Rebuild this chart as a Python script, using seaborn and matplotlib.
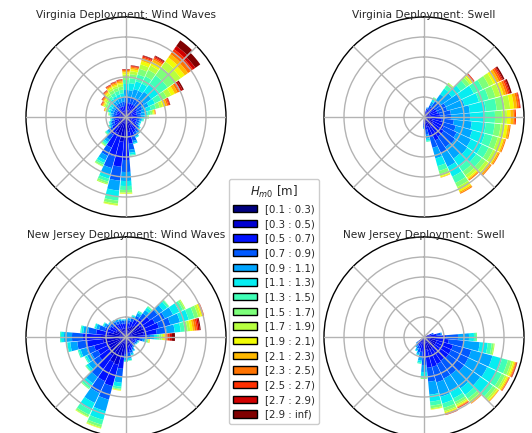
import numpy as np
import matplotlib
matplotlib.use("Agg")
import matplotlib.pyplot as plt
import seaborn as sns
from matplotlib.patches import Patch

# Hm0 classes (legend)
hm0_labels = ["[0.1 : 0.3)", "[0.3 : 0.5)", "[0.5 : 0.7)", "[0.7 : 0.9)", "[0.9 : 1.1)",
              "[1.1 : 1.3)", "[1.3 : 1.5)", "[1.5 : 1.7)", "[1.7 : 1.9)", "[1.9 : 2.1)",
              "[2.1 : 2.3)", "[2.3 : 2.5)", "[2.5 : 2.7)", "[2.7 : 2.9)", "[2.9 : inf)"]

titles = ["Virginia Deployment: Wind Waves", "Virginia Deployment: Swell",
          "New Jersey Deployment: Wind Waves", "New Jersey Deployment: Swell"]

# frequency (%) per direction sector, one value per Hm0 class (missing = 0)
va_wind_dirs = [0, 10, 20, 30, 40, 50, 60, 70, 80, 90, 100, 110, 120, 130, 140, 150, 160, 170,
                180, 190, 200, 210, 220, 230, 240, 250, 260, 270, 280, 290, 300, 310, 320, 330, 340, 350]
va_wind_freq = [
    [0.1, 0.6, 0.7, 0.6, 0.7, 0.6, 0.4, 0.3, 0.25, 0.2, 0.15, 0.1, 0.05, 0.03, 0.02],
    [0.1, 0.6, 0.7, 0.6, 0.7, 0.7, 0.5, 0.4, 0.3, 0.2, 0.15, 0.1, 0.07, 0.05, 0.03],
    [0.1, 0.6, 0.7, 0.7, 0.8, 0.8, 0.7, 0.6, 0.45, 0.35, 0.2, 0.15, 0.12, 0.08, 0.05],
    [0.1, 0.6, 0.7, 0.7, 0.8, 0.8, 0.8, 0.7, 0.5, 0.4, 0.25, 0.15, 0.13, 0.1, 0.07],
    [0.1, 0.6, 0.7, 0.8, 0.9, 1.0, 1.0, 1.0, 0.7, 0.5, 0.4, 0.3, 0.3, 0.4, 0.7],
    [0.1, 0.6, 0.7, 0.8, 0.9, 1.0, 1.0, 0.9, 0.7, 0.5, 0.4, 0.3, 0.3, 0.3, 0.6],
    [0.1, 0.5, 0.6, 0.6, 0.7, 0.7, 0.7, 0.6, 0.5, 0.4, 0.3, 0.2, 0.15, 0.2, 0.15],
    [0.1, 0.5, 0.5, 0.5, 0.5, 0.5, 0.5, 0.4, 0.3, 0.25, 0.2, 0.15, 0.1, 0.07, 0.03],
    [0.1, 0.5, 0.5, 0.4, 0.4, 0.3, 0.25, 0.2, 0.12, 0.1, 0.07, 0.04, 0.02],
    [0.1, 0.5, 0.5, 0.4, 0.3, 0.2, 0.15, 0.1, 0.05],
    [0.1, 0.5, 0.5, 0.3, 0.2, 0.1, 0.1],
    [0.1, 0.5, 0.5, 0.3, 0.1, 0.1],
    [0.1, 0.5, 0.5, 0.3, 0.1, 0.1],
    [0.1, 0.6, 0.6, 0.3, 0.1, 0.1],
    [0.1, 0.7, 0.7, 0.3, 0.2, 0.1],
    [0.1, 0.8, 0.8, 0.3, 0.2, 0.1],
    [0.2, 1.0, 0.9, 0.4, 0.2, 0.1],
    [0.2, 1.3, 1.2, 0.6, 0.3, 0.2, 0.1],
    [0.3, 2.0, 2.0, 1.2, 0.9, 0.5, 0.4, 0.25, 0.1, 0.05],
    [0.3, 2.2, 2.5, 1.4, 1.0, 0.6, 0.4, 0.3, 0.15, 0.05],
    [0.3, 1.8, 2.0, 1.2, 0.7, 0.4, 0.3, 0.2, 0.1],
    [0.3, 1.5, 1.6, 0.9, 0.5, 0.3, 0.2, 0.15, 0.05],
    [0.2, 1.0, 1.0, 0.6, 0.3, 0.2, 0.15, 0.1, 0.05],
    [0.2, 0.8, 0.7, 0.4, 0.2, 0.15, 0.1, 0.05],
    [0.2, 0.6, 0.5, 0.3, 0.2, 0.1, 0.1],
    [0.2, 0.6, 0.4, 0.3, 0.15, 0.1, 0.05],
    [0.2, 0.5, 0.4, 0.2, 0.15, 0.1, 0.05],
    [0.2, 0.5, 0.4, 0.2, 0.15, 0.1, 0.05],
    [0.1, 0.5, 0.4, 0.3, 0.2, 0.1, 0.1, 0.05, 0.05],
    [0.1, 0.5, 0.4, 0.3, 0.3, 0.2, 0.15, 0.1, 0.1, 0.05, 0.05, 0.03, 0.02],
    [0.1, 0.5, 0.4, 0.3, 0.3, 0.3, 0.2, 0.2, 0.15, 0.1, 0.1, 0.07, 0.05, 0.03],
    [0.1, 0.5, 0.4, 0.3, 0.3, 0.3, 0.3, 0.2, 0.2, 0.12, 0.1, 0.08, 0.05, 0.03, 0.02],
    [0.1, 0.5, 0.5, 0.4, 0.35, 0.35, 0.3, 0.2, 0.2, 0.12, 0.1, 0.08, 0.05, 0.03, 0.02],
    [0.1, 0.5, 0.5, 0.4, 0.4, 0.4, 0.35, 0.3, 0.2, 0.15, 0.1, 0.1, 0.05, 0.03, 0.02],
    [0.1, 0.5, 0.5, 0.4, 0.45, 0.4, 0.35, 0.3, 0.2, 0.15, 0.15, 0.1, 0.05, 0.03, 0.02],
    [0.1, 0.5, 0.5, 0.45, 0.45, 0.4, 0.35, 0.3, 0.25, 0.15, 0.15, 0.1, 0.05, 0.03, 0.02],
]

va_swell_dirs = [20, 30, 40, 50, 60, 70, 80, 90, 100, 110, 120, 130, 140, 150, 160, 170, 180]
va_swell_freq = [
    [0.1, 0.3, 0.3, 0.2, 0.1],
    [0.1, 0.4, 0.4, 0.4, 0.4, 0.3, 0.15, 0.05],
    [0.1, 0.5, 0.6, 0.7, 0.9, 0.7, 0.4, 0.2, 0.1],
    [0.1, 0.5, 0.7, 0.8, 1.3, 1.1, 0.7, 0.4, 0.2, 0.15, 0.1, 0.05, 0.05, 0.05],
    [0.1, 0.5, 0.8, 1.0, 1.7, 1.4, 1.0, 0.7, 0.5, 0.35, 0.25, 0.2, 0.15, 0.1, 0.15],
    [0.1, 0.5, 0.8, 1.0, 1.8, 1.5, 1.0, 0.7, 0.5, 0.35, 0.25, 0.2, 0.15, 0.1, 0.15],
    [0.1, 0.6, 0.9, 1.1, 1.9, 1.6, 1.1, 0.8, 0.55, 0.4, 0.3, 0.2, 0.1, 0.05],
    [0.1, 0.6, 0.9, 1.1, 1.9, 1.5, 1.0, 0.7, 0.5, 0.35, 0.3, 0.15, 0.1],
    [0.1, 0.7, 1.0, 1.2, 1.8, 1.4, 0.9, 0.6, 0.4, 0.3, 0.2, 0.1],
    [0.1, 0.8, 1.1, 1.3, 1.7, 1.3, 0.8, 0.55, 0.35, 0.25, 0.15, 0.1],
    [0.1, 0.9, 1.2, 1.4, 1.6, 1.2, 0.75, 0.5, 0.3, 0.2, 0.15, 0.1],
    [0.1, 1.0, 1.3, 1.4, 1.5, 1.1, 0.7, 0.45, 0.3, 0.2, 0.15, 0.1],
    [0.1, 1.0, 1.3, 1.3, 1.4, 1.0, 0.6, 0.45, 0.3, 0.15, 0.1, 0.1],
    [0.1, 1.1, 1.4, 1.4, 1.5, 1.1, 0.7, 0.45, 0.3, 0.2, 0.15, 0.1],
    [0.1, 0.9, 1.1, 1.1, 1.1, 0.8, 0.5, 0.35, 0.2, 0.1, 0.05],
    [0.1, 0.6, 0.6, 0.5, 0.4, 0.2, 0.1],
    [0.1, 0.4, 0.3, 0.2, 0.15, 0.05],
]

nj_wind_dirs = [0, 10, 20, 30, 40, 50, 60, 70, 80, 90, 100, 110, 120, 130, 140, 150, 160, 170,
                180, 190, 200, 210, 220, 230, 240, 250, 260, 270, 280, 290, 300, 310, 320, 330, 340, 350]
nj_wind_freq = [
    [0.2, 0.6, 0.5, 0.3, 0.15, 0.05],
    [0.2, 0.7, 0.5, 0.3, 0.2, 0.1],
    [0.2, 0.8, 0.6, 0.35, 0.2, 0.1, 0.05],
    [0.2, 1.0, 0.7, 0.45, 0.3, 0.15, 0.1],
    [0.2, 1.2, 0.9, 0.6, 0.4, 0.3, 0.15, 0.05],
    [0.2, 1.5, 1.2, 0.95, 0.7, 0.5, 0.2, 0.05],
    [0.2, 1.6, 1.4, 1.1, 0.9, 0.7, 0.4, 0.2, 0.1],
    [0.2, 1.7, 1.5, 1.2, 1.0, 0.9, 0.6, 0.4, 0.25, 0.15, 0.1, 0.05, 0.03, 0.02],
    [0.2, 1.6, 1.3, 1.0, 0.8, 0.6, 0.4, 0.3, 0.25, 0.25, 0.2, 0.2, 0.15, 0.15, 0.1],
    [0.2, 0.9, 0.8, 0.5, 0.4, 0.3, 0.25, 0.2, 0.15, 0.15, 0.15, 0.15, 0.2, 0.25, 0.3],
    [0.2, 0.7, 0.5, 0.3, 0.2, 0.15, 0.1, 0.1, 0.05, 0.05, 0.05],
    [0.2, 0.5, 0.3, 0.2, 0.1, 0.05, 0.05],
    [0.2, 0.5, 0.3, 0.15, 0.1, 0.05],
    [0.2, 0.45, 0.3, 0.15, 0.07, 0.03],
    [0.2, 0.5, 0.3, 0.15, 0.1, 0.05],
    [0.2, 0.6, 0.4, 0.2, 0.15, 0.05],
    [0.2, 0.7, 0.5, 0.25, 0.15, 0.1],
    [0.2, 0.8, 0.6, 0.35, 0.25, 0.15, 0.05],
    [0.2, 0.9, 0.6, 0.35, 0.25, 0.15, 0.05],
    [0.3, 1.6, 1.3, 0.8, 0.6, 0.4, 0.2, 0.1, 0.05, 0.05],
    [0.3, 2.6, 2.2, 1.4, 1.2, 0.9, 0.5, 0.25, 0.1, 0.05],
    [0.3, 2.5, 2.1, 1.3, 1.1, 0.8, 0.5, 0.2, 0.07, 0.03],
    [0.3, 2.0, 1.6, 1.0, 0.8, 0.4, 0.2, 0.1],
    [0.3, 1.7, 1.3, 0.8, 0.5, 0.25, 0.1, 0.05],
    [0.3, 1.6, 1.2, 0.7, 0.5, 0.2, 0.1],
    [0.3, 1.7, 1.3, 0.8, 0.6, 0.2, 0.1],
    [0.3, 2.0, 1.6, 1.0, 0.7, 0.3, 0.1],
    [0.3, 2.2, 1.8, 1.1, 0.8, 0.3, 0.1],
    [0.3, 1.5, 1.2, 0.8, 0.5, 0.2, 0.1],
    [0.2, 1.1, 0.9, 0.6, 0.3, 0.15, 0.05],
    [0.2, 0.9, 0.7, 0.4, 0.25, 0.1, 0.05],
    [0.2, 0.8, 0.6, 0.35, 0.2, 0.05],
    [0.2, 0.75, 0.6, 0.3, 0.2, 0.05],
    [0.2, 0.7, 0.55, 0.3, 0.2, 0.05],
    [0.2, 0.7, 0.5, 0.3, 0.15, 0.05],
    [0.2, 0.65, 0.5, 0.3, 0.1, 0.05],
]

nj_swell_dirs = [70, 80, 90, 100, 110, 120, 130, 140, 150, 160, 170, 180, 190, 200, 210, 220, 230]
nj_swell_freq = [
    [0.1, 0.4, 0.3, 0.2],
    [0.1, 0.6, 0.6, 0.4, 0.1],
    [0.1, 0.9, 1.2, 1.2, 1.1, 0.5, 0.2, 0.1],
    [0.1, 1.0, 1.4, 1.5, 1.6, 0.8, 0.4, 0.2, 0.1],
    [0.1, 1.2, 1.7, 1.9, 2.2, 1.0, 0.6, 0.35, 0.2, 0.15, 0.1, 0.07, 0.05, 0.03, 0.03],
    [0.1, 1.2, 1.7, 1.9, 2.1, 1.0, 0.6, 0.35, 0.2, 0.15, 0.1, 0.05, 0.03, 0.02],
    [0.1, 1.2, 1.7, 1.9, 2.0, 1.0, 0.55, 0.35, 0.2, 0.1, 0.07, 0.03],
    [0.1, 1.2, 1.6, 1.7, 1.7, 0.8, 0.45, 0.3, 0.15, 0.08, 0.05, 0.03, 0.02],
    [0.1, 1.3, 1.6, 1.6, 1.5, 0.7, 0.4, 0.25, 0.15, 0.1, 0.07, 0.05, 0.05, 0.03],
    [0.1, 1.3, 1.7, 1.6, 1.5, 0.7, 0.45, 0.3, 0.15, 0.1, 0.08, 0.06, 0.04, 0.02],
    [0.1, 1.2, 1.8, 1.4, 1.3, 0.7, 0.4, 0.25, 0.1, 0.05],
    [0.1, 0.9, 1.0, 0.8, 0.7, 0.4, 0.2, 0.1],
    [0.1, 0.7, 0.7, 0.5, 0.4, 0.2, 0.1],
    [0.1, 0.6, 0.5, 0.4, 0.2, 0.1],
    [0.1, 0.5, 0.4, 0.3, 0.2, 0.1],
    [0.1, 0.4, 0.4, 0.2, 0.15, 0.05],
    [0.1, 0.3, 0.3, 0.2, 0.1],
]

sns.set_style("white")
plt.rcParams['font.family'] = ['DejaVu Sans']

colors = sns.color_palette(list(plt.get_cmap("jet")(np.linspace(0, 1, len(hm0_labels)))))


def rose(ax, dirs, freqs):
    theta = np.deg2rad(dirs)
    rows = np.array([r + [0] * (len(hm0_labels) - len(r)) for r in freqs])
    bottom = np.zeros(len(dirs))
    for k in range(len(hm0_labels)):
        ax.bar(theta, rows[:, k], width=np.deg2rad(9.4), bottom=bottom,
               color=colors[k], linewidth=0, zorder=1)
        bottom += rows[:, k]
    ax.set_theta_zero_location("N")
    ax.set_theta_direction(-1)
    ax.set_ylim(0, 10)
    ax.set_yticks([2, 4, 6, 8])
    ax.set_yticklabels([])
    ax.set_xticks(np.deg2rad(np.arange(0, 360, 45)))
    ax.set_xticklabels([])
    ax.set_axisbelow(False)
    ax.grid(True, color="0.7", lw=1)
    ax.spines["polar"].set_color("black")
    ax.spines["polar"].set_linewidth(1.0)


W, H = 532, 433
fig = plt.figure(figsize=(W / 100, H / 100), dpi=100)

data = [(va_wind_dirs, va_wind_freq), (va_swell_dirs, va_swell_freq),
        (nj_wind_dirs, nj_wind_freq), (nj_swell_dirs, nj_swell_freq)]
centers = [(126, 117), (424, 117), (126, 337), (424, 337)]
title_y = [18, 18, 238.5, 238.5]
R = 100

for (dirs, freqs), (cx, cy), ty, title in zip(data, centers, title_y, titles):
    ax = fig.add_axes([(cx - R) / W, (H - cy - R) / H, 2 * R / W, 2 * R / H], projection="polar")
    rose(ax, dirs, freqs)
    fig.text(cx / W, 1 - ty / H, title, ha="center", va="baseline", fontsize=7.6)

handles = [Patch(facecolor=c, edgecolor="black", linewidth=1) for c in colors]
leg = fig.legend(handles, hm0_labels, title=r"$H_{m0}$ [m]", loc="center",
                 bbox_to_anchor=(274 / W, 1 - 301.5 / H), fontsize=7.3, title_fontsize=8.5,
                 handlelength=2.3, handleheight=0.75, labelspacing=0.46,
                 frameon=True, edgecolor="0.8", framealpha=1)

fig.savefig("out.png", dpi=100)
